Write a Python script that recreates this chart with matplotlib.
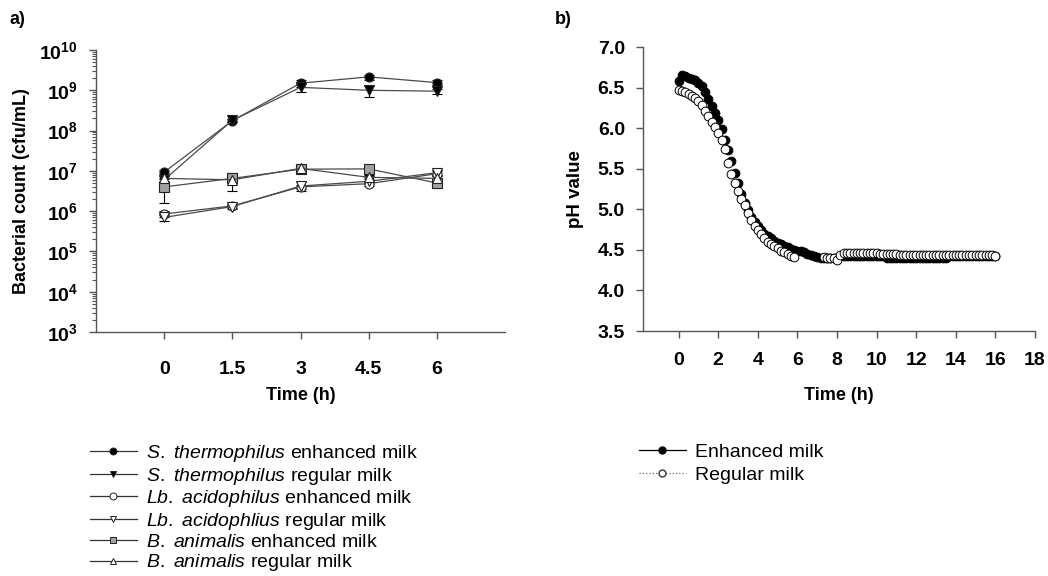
import numpy as np
import matplotlib
matplotlib.use("Agg")
import matplotlib.pyplot as plt
from matplotlib.lines import Line2D
from matplotlib.ticker import LogLocator, NullFormatter, FixedLocator

plt.rcParams['font.family'] = ['Liberation Sans', 'DejaVu Sans']
plt.rcParams['mathtext.fontset'] = 'custom'
plt.rcParams['mathtext.rm'] = 'Liberation Sans'
plt.rcParams['mathtext.it'] = 'Liberation Sans:italic'
plt.rcParams['mathtext.bf'] = 'Liberation Sans:bold'

# ---- panel a: bacterial counts ----
time_h = [0, 1.5, 3, 4.5, 6]
st_enh = [9.3e6, 1.75e8, 1.5e9, 2.15e9, 1.55e9]
st_enh_err = [1.0e6, 1.5e7, 3.0e8, 3.0e8, 2.0e8]
st_reg = [6.0e6, 1.8e8, 1.18e9, 1.0e9, 9.5e8]
st_reg_err = [8.0e5, 1.5e7, 2.5e8, 3.0e8, 1.5e8]
la_enh = [8.5e5, 1.35e6, 4.0e6, 4.8e6, 8.5e6]
la_enh_err = [1.5e5, 1.5e5, 5.0e5, 6.0e5, 1.2e6]
la_reg = [7.0e5, 1.3e6, 4.2e6, 5.5e6, 9.0e6]
la_reg_err = [1.2e5, 1.5e5, 1.0e6, 8.0e5, 1.5e6]
ba_enh = [4.0e6, 6.5e6, 1.1e7, 1.12e7, 5.0e6]
ba_enh_err = [2.4e6, 1.5e6, 1.0e6, 1.5e6, 1.2e6]
ba_reg = [6.5e6, 6.0e6, 1.15e7, 6.9e6, 6.5e6]
ba_reg_err = [1.0e6, 2.8e6, 1.2e6, 1.2e6, 1.2e6]

# ---- panel b: pH ----
enh_min = [0, 10, 20, 30, 40, 50, 60, 70, 80, 90,
           100, 110, 120, 130, 140, 150, 160, 170, 180, 190,
           200, 210, 220, 230, 240, 250, 260, 270, 280, 290,
           300, 310, 320, 330, 340, 350, 360, 370, 380, 390,
           400, 410, 420, 430, 440, 450, 460, 470, 480, 490,
           500, 510, 520, 530, 540, 550, 560, 570, 580, 590,
           600, 610, 620, 630, 640, 650, 660, 670, 680, 690,
           700, 710, 720, 730, 740, 750, 760, 770, 780, 790,
           800, 810, 820, 830, 840, 850, 860, 870, 880, 890,
           900, 910, 920, 930, 940, 950, 960]
enh_ph = [6.58, 6.65, 6.64, 6.62, 6.61, 6.59, 6.56, 6.52, 6.45, 6.36,
          6.27, 6.19, 6.10, 5.99, 5.86, 5.73, 5.59, 5.45, 5.32, 5.19,
          5.08, 4.99, 4.91, 4.84, 4.79, 4.74, 4.70, 4.67, 4.64, 4.61,
          4.59, 4.57, 4.55, 4.53, 4.51, 4.50, 4.49, 4.48, 4.47, 4.45,
          4.44, 4.42, 4.41, 4.40, 4.40, 4.40, 4.40, 4.40, 4.40, 4.43,
          4.43, 4.43, 4.43, 4.43, 4.43, 4.43, 4.43, 4.43, 4.43, 4.43,
          4.43, 4.43, 4.43, 4.40, 4.40, 4.40, 4.40, 4.40, 4.40, 4.40,
          4.40, 4.40, 4.40, 4.40, 4.40, 4.40, 4.40, 4.40, 4.40, 4.40,
          4.40, 4.40, 4.42, 4.42, 4.42, 4.42, 4.42, 4.42, 4.42, 4.42,
          4.42, 4.42, 4.42, 4.42, 4.42, 4.42, 4.42]
reg_min = [0, 10, 20, 30, 40, 50, 60, 70, 80, 90,
           100, 110, 120, 130, 140, 150, 160, 170, 180, 190,
           200, 210, 220, 230, 240, 250, 260, 270, 280, 290,
           300, 310, 320, 330, 340, 350,
           440, 450, 460, 470, 480, 490,
           500, 510, 520, 530, 540, 550, 560, 570, 580, 590,
           600, 610, 620, 630, 640, 650, 660, 670, 680, 690,
           700, 710, 720, 730, 740, 750, 760, 770, 780, 790,
           800, 810, 820, 830, 840, 850, 860, 870, 880, 890,
           900, 910, 920, 930, 940, 950, 960]
reg_ph = [6.47, 6.46, 6.44, 6.42, 6.40, 6.37, 6.34, 6.28, 6.21, 6.15,
          6.08, 6.01, 5.94, 5.86, 5.74, 5.57, 5.43, 5.32, 5.22, 5.13,
          5.05, 4.95, 4.87, 4.80, 4.74, 4.69, 4.64, 4.60, 4.57, 4.55,
          4.52, 4.49, 4.47, 4.45, 4.43, 4.41,
          4.41, 4.40, 4.40, 4.40, 4.38, 4.44,
          4.46, 4.46, 4.46, 4.46, 4.46, 4.46, 4.46, 4.46, 4.46, 4.46,
          4.46, 4.45, 4.45, 4.45, 4.45, 4.45, 4.45, 4.44, 4.44, 4.44,
          4.44, 4.44, 4.44, 4.44, 4.44, 4.44, 4.44, 4.44, 4.44, 4.44,
          4.44, 4.44, 4.44, 4.44, 4.44, 4.44, 4.44, 4.44, 4.44, 4.44,
          4.44, 4.44, 4.44, 4.44, 4.44, 4.44, 4.43]

AX_COL = '#555555'
LINE_COL = '#4a4a4a'
FS = 13      # axis labels
TFS = 14     # tick labels
LFS = 14     # legends

W, H = 1048, 576
fig = plt.figure(figsize=(W / 100, H / 100), dpi=100)
ax1 = fig.add_axes([96 / W, 1 - 332 / H, (505 - 96) / W, (332 - 50) / H])
ax2 = fig.add_axes([643 / W, 1 - 331 / H, (1035 - 643) / W, (331 - 47) / H])

series = [
    (st_enh, st_enh_err, 'o', 'black', r'$\mathit{S.}$ $\mathit{thermophilus}$ enhanced milk'),
    (st_reg, st_reg_err, 'v', 'black', r'$\mathit{S.}$ $\mathit{thermophilus}$ regular milk'),
    (la_enh, la_enh_err, 'o', 'white', r'$\mathit{Lb.}$ $\mathit{acidophilus}$ enhanced milk'),
    (la_reg, la_reg_err, 'v', 'white', r'$\mathit{Lb.}$ $\mathit{acidophlius}$ regular milk'),
    (ba_enh, ba_enh_err, 's', '#a0a0a0', r'$\mathit{B.}$ $\mathit{animalis}$ enhanced milk'),
    (ba_reg, ba_reg_err, '^', 'white', r'$\mathit{B.}$ $\mathit{animalis}$ regular milk'),
]
handles_a = []
for vals, err, mk, fc, lab in series:
    ax1.errorbar(time_h, vals, yerr=err, fmt='none', ecolor='black',
                 elinewidth=0.8, capsize=3.5, capthick=0.8, zorder=2)
    ax1.plot(time_h, vals, color=LINE_COL, lw=0.9, marker=mk, ms=6.5,
             mfc=fc, mec='#222222', mew=0.8, zorder=3)
    handles_a.append(Line2D([], [], color='#333333', lw=0.9, marker=mk, ms=5,
                            mfc=fc, mec='#222222', mew=0.7))

ax1.set_yscale('log')
ax1.set_ylim(1e3, 1e10)
ax1.set_xlim(-1.5, 7.5)
ax1.set_xticks(time_h)
ax1.set_xticklabels(['0', '1.5', '3', '4.5', '6'])
ax1.yaxis.set_major_locator(FixedLocator([10.0 ** e for e in range(3, 11)]))
ax1.set_yticklabels([r'$\mathbf{10^{%d}}$' % e for e in range(3, 11)])
ax1.yaxis.set_minor_locator(LogLocator(base=10, subs=np.arange(2, 10), numticks=20))
ax1.yaxis.set_minor_formatter(NullFormatter())
ax1.set_xlabel('Time (h)', fontsize=FS, fontweight='bold', labelpad=6)
ax1.set_ylabel('Bacterial count (cfu/mL)', fontsize=FS, fontweight='bold', labelpad=7)
ax1.tick_params(axis='x', pad=16)

# pH panel
ax2.plot(np.array(enh_min) / 60, enh_ph, ls='none', marker='o', ms=6.3,
         mfc='black', mec='black', mew=0.7, zorder=3)
ax2.plot(np.array(reg_min) / 60, reg_ph, ls='none', marker='o', ms=6.3,
         mfc='white', mec='black', mew=0.7, zorder=4)
ax2.set_xlim(-1.8, 18)
ax2.set_ylim(3.5, 7.0)
ax2.set_xticks(range(0, 19, 2))
ax2.set_yticks([3.5, 4.0, 4.5, 5.0, 5.5, 6.0, 6.5, 7.0])
ax2.set_yticklabels(['3.5', '4.0', '4.5', '5.0', '5.5', '6.0', '6.5', '7.0'])
ax2.set_xlabel('Time (h)', fontsize=FS, fontweight='bold', labelpad=13)
ax2.set_ylabel('pH value', fontsize=13.5, fontweight='bold', labelpad=10)
ax2.tick_params(axis='x', pad=10)

for ax in (ax1, ax2):
    for s in ('top', 'right'):
        ax.spines[s].set_visible(False)
    for s in ('left', 'bottom'):
        ax.spines[s].set_color(AX_COL)
        ax.spines[s].set_linewidth(1.0)
    ax.tick_params(which='major', direction='out', length=5, width=1.0,
                   color=AX_COL, labelsize=TFS)
    ax.tick_params(which='minor', direction='out', length=3, width=0.8, color=AX_COL)
    for lab in ax.get_xticklabels() + ax.get_yticklabels():
        lab.set_fontweight('bold')
    ax.tick_params(axis='y', which='major', pad=8)

fig.text(10 / W, 1 - 19 / H, 'a)', fontsize=FS, fontweight='bold', va='center')
fig.text(555 / W, 1 - 19 / H, 'b)', fontsize=FS, fontweight='bold', va='center')

fig.legend(handles_a, [s[4] for s in series], loc='upper left',
           bbox_to_anchor=(90 / W, 1 - 443 / H), frameon=False, fontsize=LFS,
           handlelength=2.4, handletextpad=0.5, labelspacing=0.08,
           borderpad=0, borderaxespad=0)

handles_b = [
    Line2D([], [], color='black', lw=0.9, marker='o', ms=5, mfc='black', mec='black'),
    Line2D([], [], color='#666666', lw=0.9, ls=':', marker='o', ms=5, mfc='white', mec='#333333'),
]
fig.legend(handles_b, ['Enhanced milk', 'Regular milk'], loc='upper left',
           bbox_to_anchor=(639 / W, 1 - 443 / H), frameon=False, fontsize=LFS,
           handlelength=2.4, handletextpad=0.5, labelspacing=0.3,
           borderpad=0, borderaxespad=0)

fig.savefig('out.png', dpi=100)
